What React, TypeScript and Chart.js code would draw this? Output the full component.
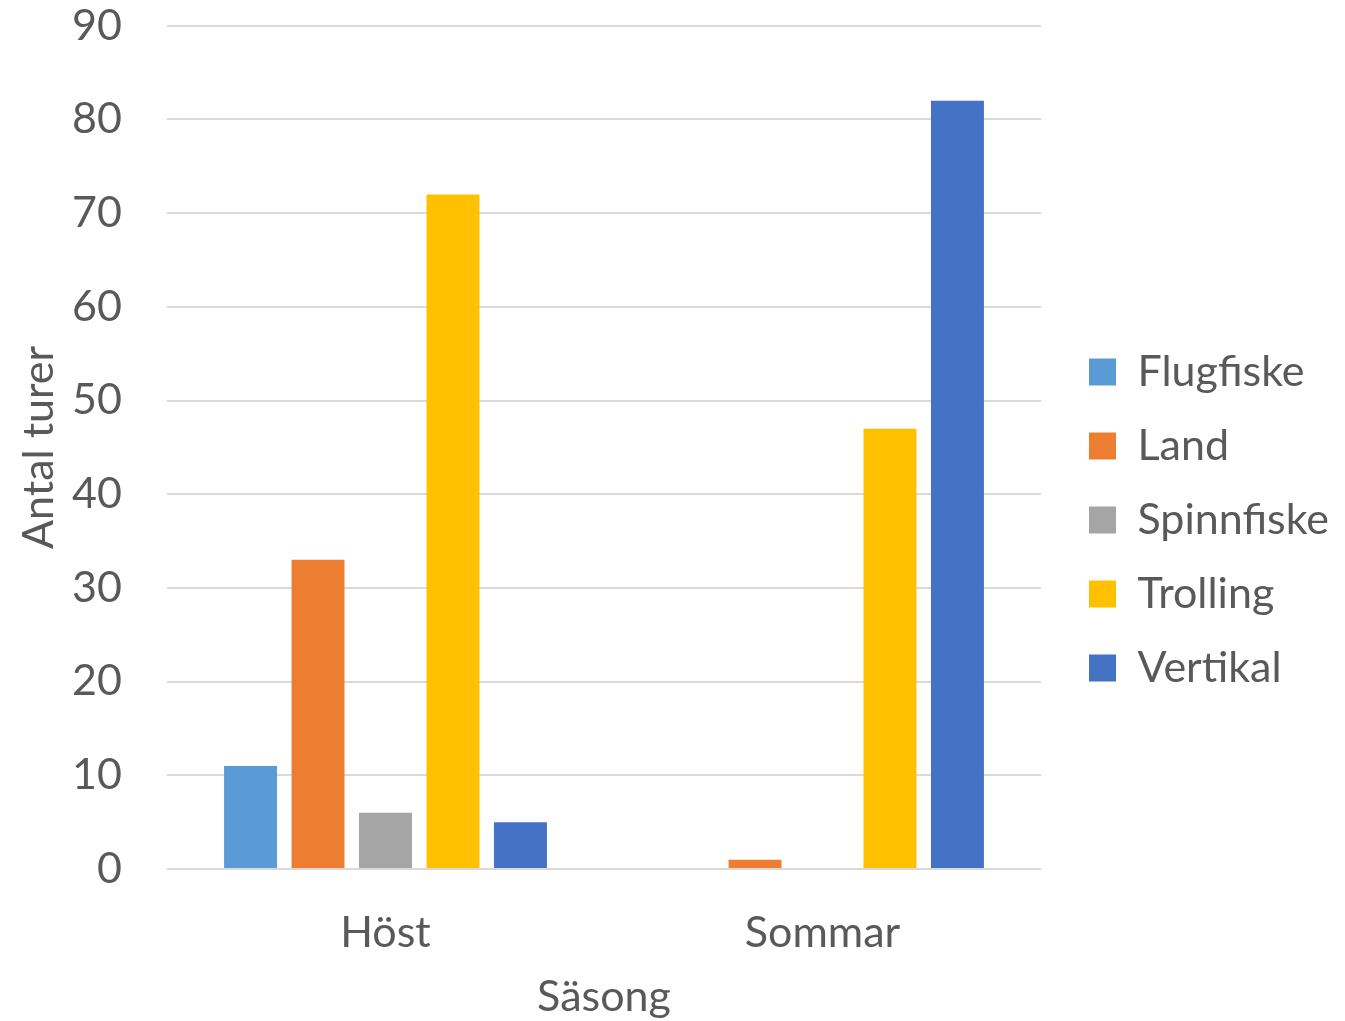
import React, { useEffect, useRef } from "react";
import { Chart, registerables } from "chart.js";

Chart.register(...registerables);

const categories = ["Höst", "Sommar"];
const seriesNames = ["Flugfiske", "Land", "Spinnfiske", "Trolling", "Vertikal"];
const flugfiske = [11, 0];
const land = [33, 1];
const spinnfiske = [6, 0];
const trolling = [72, 47];
const vertikal = [5, 82];
const seriesColors = ["#5B9BD5", "#ED7D31", "#A5A5A5", "#FFC000", "#4472C4"];
const yTitle = "Antal turer";
const xTitle = "Säsong";

const FONT = "Lato";
const TEXT = "#595959";
const FS = 43;

// keeps the legend box at a fixed width and places it a little right of the plot
const legendPlacement = {
  id: "legendPlacement",
  beforeLayout(chart: any) {
    const lg = chart.legend;
    if (lg && !lg.__fixed) {
      const orig = lg.fit.bind(lg);
      lg.fit = function () {
        orig();
        this.width = 304;
      };
      lg.__fixed = true;
    }
  },
  afterLayout(chart: any) {
    const lg = chart.legend;
    if (lg) {
      lg.left = chart.chartArea.right + 17;
      lg.right = lg.left + lg.width;
    }
  },
};

export default function App() {
  const ref = useRef<HTMLCanvasElement | null>(null);

  useEffect(() => {
    let chart: Chart | null = null;
    let cancelled = false;
    const make = () => {
      if (cancelled || !ref.current) return;
      const values = [flugfiske, land, spinnfiske, trolling, vertikal];
      chart = new Chart(ref.current, {
        type: "bar",
        data: {
          labels: categories,
          datasets: seriesNames.map((name, i) => ({
            label: name,
            data: values[i],
            backgroundColor: seriesColors[i],
            borderWidth: 0,
            categoryPercentage: 0.772,
            barPercentage: 0.785,
          })),
        },
        options: {
          animation: false,
          responsive: false,
          maintainAspectRatio: false,
          layout: { padding: { top: 19, right: 0, left: 0, bottom: 0 } },
          plugins: {
            tooltip: { enabled: false },
            legend: {
              position: "right",
              align: "center",
              labels: {
                boxWidth: 27,
                boxHeight: 27,
                padding: 74 - FS,
                color: TEXT,
                font: { family: FONT, size: FS },
              },
            },
          },
          scales: {
            x: {
              grid: { display: false, drawTicks: false, tickLength: 0 },
              border: { display: false },
              ticks: { color: TEXT, font: { family: FONT, size: FS }, padding: 38 },
              title: {
                display: true,
                text: xTitle,
                color: TEXT,
                font: { family: FONT, size: FS },
                padding: { top: 0, bottom: -2 },
              },
              afterFit: (s: any) => {
                s.height = 152;
              },
            },
            y: {
              min: 0,
              max: 90,
              grid: {
                color: "#D9D9D9",
                lineWidth: 2,
                drawTicks: true,
                tickLength: 45,
                tickColor: "rgba(0,0,0,0)",
              },
              border: { display: false },
              ticks: { stepSize: 10, color: TEXT, font: { family: FONT, size: FS }, padding: 0 },
              title: {
                display: true,
                text: yTitle,
                color: TEXT,
                font: { family: FONT, size: FS },
                padding: { top: 13, bottom: 0 },
              },
              afterFit: (s: any) => {
                s.width = 167;
              },
            },
          },
        },
        plugins: [legendPlacement],
      } as any);
    };
    const fonts: any = (document as any).fonts;
    if (fonts && fonts.load) {
      fonts.load(`${FS}px ${FONT}`).then(make, make);
    } else {
      make();
    }
    return () => {
      cancelled = true;
      if (chart) chart.destroy();
    };
  }, []);

  return (
    <div style={{ position: "absolute", left: 0, top: 0, width: 1345, height: 1021, background: "#fff" }}>
      <canvas ref={ref} width={1345} height={1021} style={{ display: "block" }} />
    </div>
  );
}
